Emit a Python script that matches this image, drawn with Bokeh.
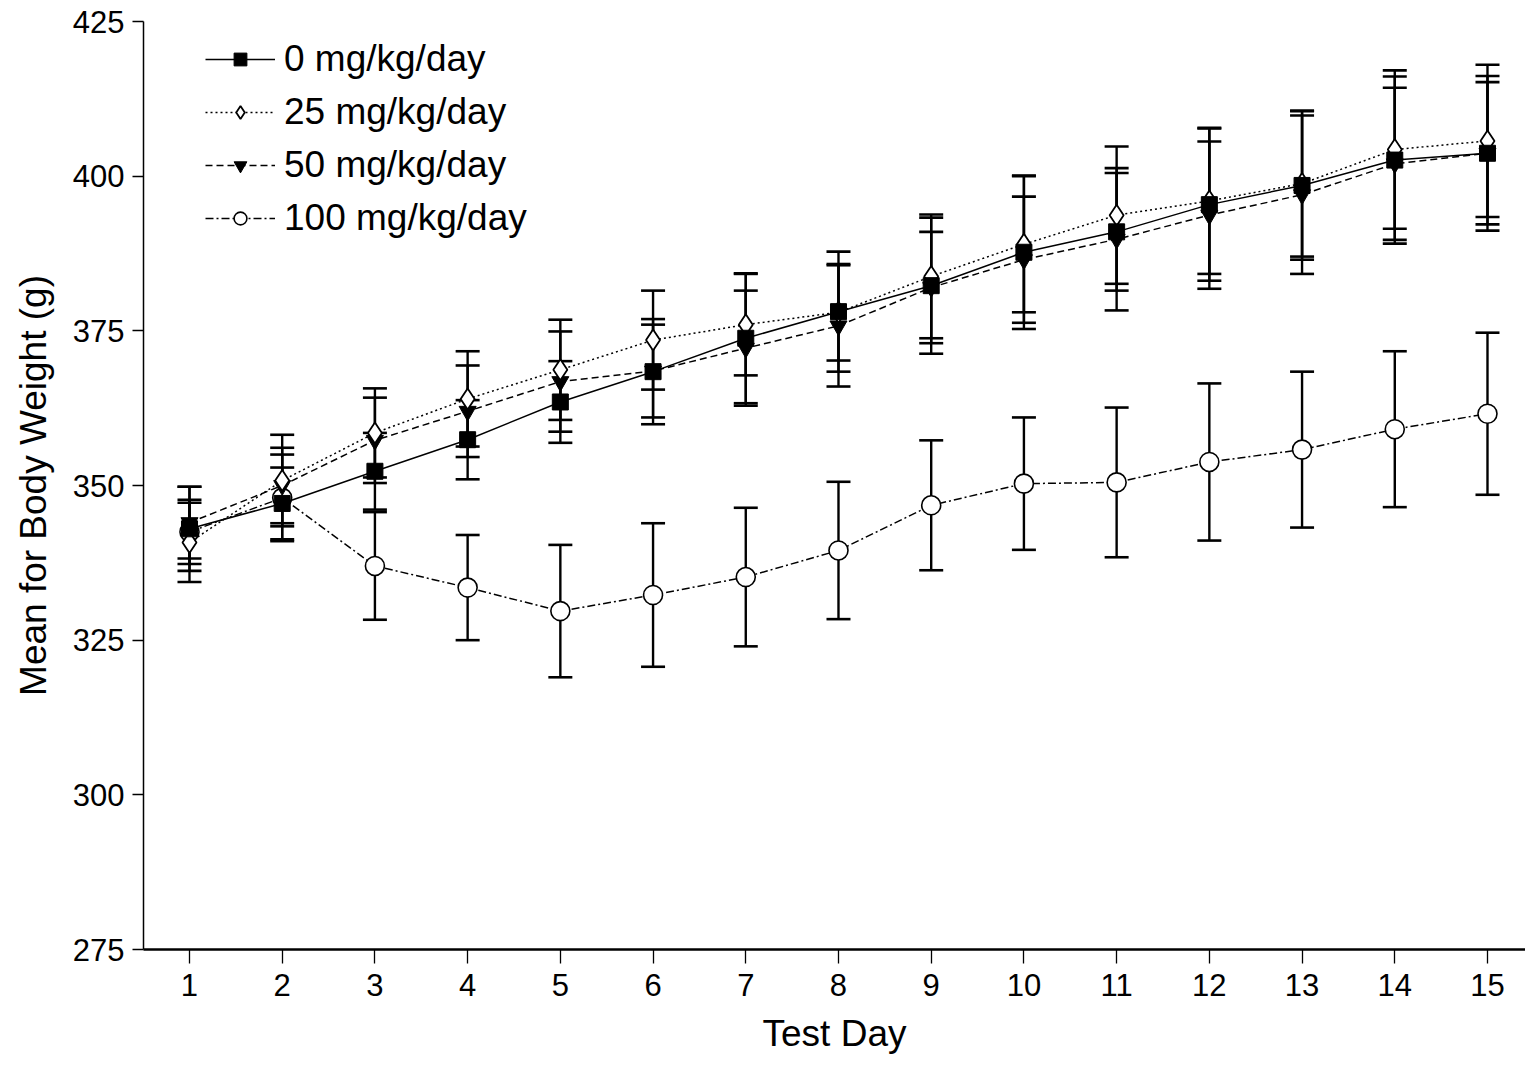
from bokeh.plotting import figure
from bokeh.models import (ColumnDataSource, Whisker, TeeHead, Legend, LegendItem,
                          FixedTicker, Range1d)
from bokeh.embed import file_html
from bokeh.resources import INLINE

days = list(range(1, 16))
tick_labels = [str(d) for d in days]

series_names = ["0 mg/kg/day", "25 mg/kg/day", "50 mg/kg/day", "100 mg/kg/day"]

mean_0 = [343.0, 347.1, 352.3, 357.4, 363.5, 368.4, 373.8, 378.1, 382.3, 387.7, 391.0, 395.4, 398.5, 402.6, 403.7]
sd_0 = [6.8, 5.8, 6.2, 6.4, 6.6, 8.5, 10.5, 9.7, 11.0, 12.4, 9.5, 12.3, 12.0, 13.5, 12.5]

mean_25 = [340.8, 350.8, 358.5, 364.0, 368.7, 373.5, 376.0, 378.0, 383.8, 389.0, 393.7, 396.0, 398.8, 404.3, 405.7]
sd_25 = [6.4, 7.4, 7.2, 7.7, 8.1, 8.0, 8.2, 7.8, 10.0, 11.0, 11.1, 11.8, 11.8, 12.8, 12.3]

mean_50 = [344.0, 350.0, 357.3, 362.0, 366.8, 368.5, 372.2, 375.8, 382.0, 386.5, 389.8, 393.7, 397.0, 402.0, 403.7]
sd_50 = [5.8, 6.1, 6.9, 7.4, 8.1, 7.5, 9.3, 9.8, 9.0, 10.2, 11.5, 11.9, 12.8, 12.3, 11.5]

mean_100 = [342.5, 348.0, 337.0, 333.5, 329.7, 332.3, 335.2, 339.5, 346.8, 350.3, 350.5, 353.8, 355.8, 359.1, 361.6]
sd_100 = [5.2, 7.0, 8.7, 8.5, 10.7, 11.6, 11.2, 11.1, 10.5, 10.7, 12.1, 12.7, 12.6, 12.6, 13.1]

FONT = "Liberation Sans"

p = figure(width=1525, height=1067, output_backend="svg", toolbar_location=None,
           x_range=Range1d(0.504, 15.41), y_range=Range1d(275, 425),
           min_border_left=143, min_border_right=0, min_border_top=21, min_border_bottom=118)
p.outline_line_color = None
p.xgrid.visible = False
p.ygrid.visible = False
p.background_fill_color = "white"
p.border_fill_color = "white"

# axes
p.xaxis.ticker = FixedTicker(ticks=days)
p.xaxis.major_label_overrides = {d: lbl for d, lbl in zip(days, tick_labels)}
p.yaxis.ticker = FixedTicker(ticks=[275, 300, 325, 350, 375, 400, 425])
p.xaxis.minor_tick_line_color = None
p.yaxis.minor_tick_line_color = None
p.xaxis.major_tick_in = 0
p.xaxis.major_tick_out = 14
p.yaxis.major_tick_in = 0
p.yaxis.major_tick_out = 11
p.xaxis.axis_line_width = 2.5
p.yaxis.axis_line_width = 1.5
p.xaxis.major_tick_line_width = 1.3
p.yaxis.major_tick_line_width = 1.3
for ax in (p.xaxis, p.yaxis):
    ax.axis_line_color = "black"
    ax.major_tick_line_color = "black"
    ax.major_label_text_font = FONT
    ax.major_label_text_font_size = "31px"
    ax.major_label_text_color = "black"
    ax.axis_label_text_font = FONT
    ax.axis_label_text_font_size = "37px"
    ax.axis_label_text_font_style = "normal"
    ax.axis_label_text_color = "black"
p.xaxis.major_label_standoff = 10
p.yaxis.major_label_standoff = 8
p.xaxis.axis_label = "Test Day"
p.yaxis.axis_label = "Mean for Body Weight (g)"
p.xaxis.axis_label_standoff = 14
p.yaxis.axis_label_standoff = 16

# error bars
def add_whisker(means, sds):
    src = ColumnDataSource(dict(
        base=days,
        upper=[m + s for m, s in zip(means, sds)],
        lower=[m - s for m, s in zip(means, sds)],
    ))
    w = Whisker(base="base", upper="upper", lower="lower", source=src,
                line_color="black", line_width=2.4, level="underlay",
                upper_head=TeeHead(size=24, line_width=2.6, line_color="black"),
                lower_head=TeeHead(size=24, line_width=2.6, line_color="black"))
    p.add_layout(w)

for m, s in [(mean_100, sd_100), (mean_50, sd_50), (mean_25, sd_25), (mean_0, sd_0)]:
    add_whisker(m, s)

l100 = p.line(days, mean_100, line_color="black", line_width=1.5, line_dash="8 3 2 3")
s100 = p.scatter(days, mean_100, marker="circle", size=19, fill_color="white",
                 line_color="black", line_width=1.6)

l50 = p.line(days, mean_50, line_color="black", line_width=1.5, line_dash="7 4")
s50 = p.scatter(days, mean_50, marker="inverted_triangle", size=17, fill_color="black",
                line_color="black", line_width=1)

l25 = p.line(days, mean_25, line_color="black", line_width=1.5, line_dash="2 3")
s25 = p.scatter(days, mean_25, marker="diamond", size=21, fill_color="white",
                line_color="black", line_width=1.8)

l0 = p.line(days, mean_0, line_color="black", line_width=1.5)
s0 = p.scatter(days, mean_0, marker="square", size=16, fill_color="black",
               line_color="black", line_width=1)

items = [
    LegendItem(label=series_names[0], renderers=[l0, s0]),
    LegendItem(label=series_names[1], renderers=[l25, s25]),
    LegendItem(label=series_names[2], renderers=[l50, s50]),
    LegendItem(label=series_names[3], renderers=[l100, s100]),
]
legend = Legend(items=items, location=(62, 710), padding=0, margin=0,
                glyph_width=70, glyph_height=32, label_height=40, spacing=11,
                label_standoff=9, label_text_font=FONT, label_text_font_size="37px",
                label_text_color="black", border_line_color=None,
                background_fill_alpha=0)
p.add_layout(legend, "center")

open("out.html", "w").write(file_html(p, INLINE))
